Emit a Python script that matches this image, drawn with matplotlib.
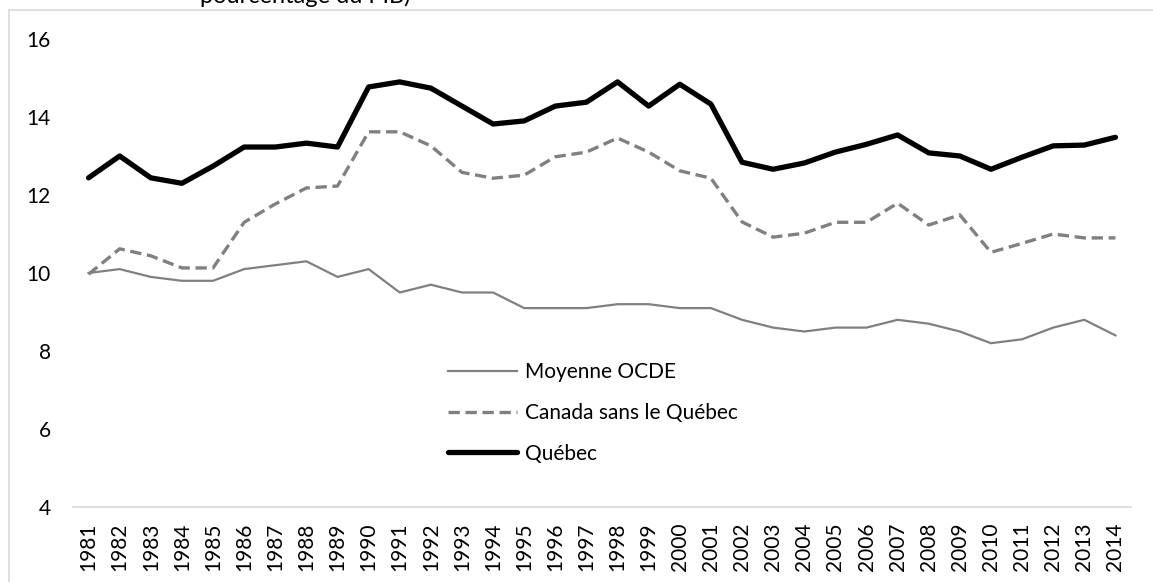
import matplotlib
matplotlib.use("Agg")
import matplotlib.pyplot as plt
from matplotlib.patches import Rectangle

# =========================
# Data
# =========================

years = [str(y) for y in range(1981, 2015)]

ocde = [10.0, 10.1, 9.9, 9.8, 9.8, 10.1, 10.2, 10.3, 9.9, 10.1,
        9.5, 9.7, 9.5, 9.5, 9.1, 9.1, 9.1, 9.2, 9.2, 9.1,
        9.1, 8.8, 8.6, 8.5, 8.6, 8.6, 8.8, 8.7, 8.5, 8.2,
        8.3, 8.6, 8.8, 8.4]

canada_sans_qc = [9.97, 10.62, 10.44, 10.13, 10.13, 11.3, 11.77, 12.18, 12.23, 13.62,
                  13.62, 13.26, 12.58, 12.43, 12.51, 12.98, 13.1, 13.46, 13.1, 12.62,
                  12.43, 11.31, 10.92, 11.02, 11.3, 11.3, 11.79, 11.23, 11.49, 10.53,
                  10.76, 11.0, 10.9, 10.9]

quebec = [12.44, 13.0, 12.44, 12.3, 12.74, 13.23, 13.23, 13.33, 13.23, 14.77,
          14.9, 14.74, 14.28, 13.82, 13.9, 14.28, 14.38, 14.9, 14.28, 14.84,
          14.33, 12.84, 12.66, 12.82, 13.1, 13.3, 13.54, 13.08, 13.0, 12.66,
          12.97, 13.26, 13.28, 13.48]

y_ticks = [4, 6, 8, 10, 12, 14, 16]

# =========================
# Figure
# =========================

plt.rcParams['font.family'] = ['Lato', 'DejaVu Sans']

W, H = 1153, 582
fig = plt.figure(figsize=(W / 100, H / 100), dpi=100)

# chart border (cropped on the right and bottom)
fig.patches.append(Rectangle(
    (9 / W, -0.1), 1.5, (H - 10) / H + 0.1,
    transform=fig.transFigure, fill=False,
    edgecolor='#d9d9d9', linewidth=1.2, clip_on=False
))

# title, cut off at the top edge as in the source image
fig.text(200 / W, 1 - 3 / H, "pourcentage du PIB)",
         fontsize=17, color='black', ha='left', va='baseline')

ax = fig.add_axes([73 / W, 1 - 507 / H, (1131 - 73) / W, (507 - 39) / H])

x = list(range(len(years)))

ax.plot(x, ocde, color='#808080', linewidth=1.6,
        label='Moyenne OCDE', solid_joinstyle='round')

ax.plot(x, canada_sans_qc, color='#808080', linewidth=2.4,
        dashes=(3.4, 1.7), dash_capstyle='butt',
        label='Canada sans le Québec')

ax.plot(x, quebec, color='black', linewidth=3.8,
        label='Québec', solid_joinstyle='round', solid_capstyle='round')

# =========================
# Axes
# =========================

ax.set_xlim(-0.5, len(years) - 0.5)
ax.set_ylim(4, 16)

ax.set_xticks(x)
ax.set_xticklabels(years, rotation=90, fontsize=15)
ax.set_yticks(y_ticks)
ax.set_yticklabels([str(v) for v in y_ticks], fontsize=15)

ax.tick_params(axis='x', length=0, pad=11)
ax.tick_params(axis='y', length=0, pad=16)

for side in ['top', 'right', 'left']:
    ax.spines[side].set_visible(False)
ax.spines['bottom'].set_color('#d9d9d9')
ax.spines['bottom'].set_linewidth(1.2)

# =========================
# Legend
# =========================

ax.legend(
    loc='upper left',
    bbox_to_anchor=(448 / W, 1 - 362 / H),
    bbox_transform=fig.transFigure,
    frameon=False,
    fontsize=15,
    handlelength=3.3,
    handletextpad=0.4,
    labelspacing=1.0,
    borderpad=0,
    borderaxespad=0
)

fig.savefig("out.png", dpi=100)
